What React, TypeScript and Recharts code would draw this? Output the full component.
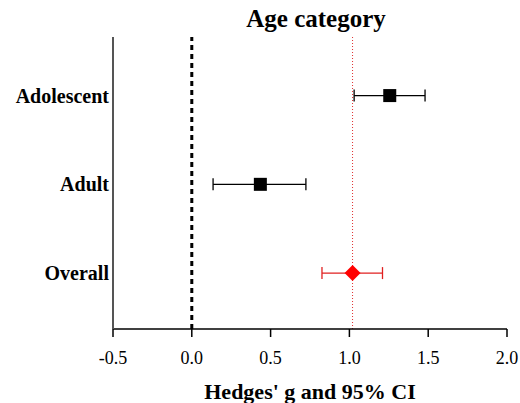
import { ScatterChart, Scatter, XAxis, YAxis, ErrorBar, ReferenceLine } from 'recharts'

const categories = ['Adolescent', 'Adult', 'Overall']
const rows = [3, 2, 1]
const estimates = [1.256, 0.435, 1.02]
const lowerCI = [1.03, 0.135, 0.826]
const upperCI = [1.48, 0.724, 1.21]
const xTicks = [-0.5, 0, 0.5, 1, 1.5, 2]
const overallLine = 1.02

const FONT = '"Liberation Serif", "DejaVu Serif", serif'

const points = categories.map((name, i) => ({
  name,
  y: rows[i],
  x: estimates[i],
  err: [estimates[i] - lowerCI[i], upperCI[i] - estimates[i]],
}))
const studies = points.filter((p) => p.name !== 'Overall')
const overall = points.filter((p) => p.name === 'Overall')

const Square = (props: any) => {
  const { cx, cy } = props
  return <rect x={cx - 6.5} y={cy - 6.5} width={13} height={13} fill="#000" />
}

const Diamond = (props: any) => {
  const { cx, cy } = props
  const r = 8
  return <polygon points={`${cx},${cy - r} ${cx + r},${cy} ${cx},${cy + r} ${cx - r},${cy}`} fill="#ff0000" />
}

const labelFor = (v: number) => {
  const i = rows.indexOf(v)
  return i >= 0 ? categories[i] : ''
}

export default function App() {
  return (
    <div style={{ width: 520, height: 403, position: 'relative', background: '#fff' }}>
      <style>{'body{margin:0}'}</style>
      <div
        style={{
          position: 'absolute', top: 5, left: 0, width: 632, textAlign: 'center',
          fontFamily: FONT, fontWeight: 'bold', fontSize: 25, color: '#000',
        }}
      >
        Age category
      </div>
      <ScatterChart width={520} height={403} margin={{ top: 37, right: 13, bottom: 0, left: 10 }}>
        <XAxis
          type="number"
          dataKey="x"
          domain={[-0.5, 2]}
          ticks={xTicks}
          tickFormatter={(v: number) => v.toFixed(1)}
          stroke="#000"
          strokeWidth={1.5}
          tickSize={8}
          tickMargin={14}
          height={74}
          tick={{ fill: '#000', fontFamily: FONT, fontSize: 18 }}
          label={{
            value: "Hedges' g and 95% CI",
            position: 'insideBottom',
            offset: 4,
            fill: '#000',
            fontFamily: FONT,
            fontWeight: 'bold',
            fontSize: 22,
          }}
        />
        <YAxis
          type="number"
          dataKey="y"
          domain={[0.37, 3.66]}
          ticks={rows}
          tickFormatter={labelFor}
          width={103}
          tickLine={false}
          tickSize={0}
          tickMargin={4}
          stroke="#555"
          strokeWidth={2}
          tick={{ fill: '#000', fontFamily: FONT, fontWeight: 'bold', fontSize: 20 }}
        />
        <ReferenceLine x={0} stroke="#000" strokeWidth={3} strokeDasharray="5 4" />
        <ReferenceLine x={overallLine} stroke="#e03030" strokeWidth={1} strokeDasharray="1 2" />
        <Scatter data={studies} shape={<Square />} isAnimationActive={false}>
          <ErrorBar dataKey="err" direction="x" width={6} stroke="#000" strokeWidth={1.3} />
        </Scatter>
        <Scatter data={overall} shape={<Diamond />} isAnimationActive={false}>
          <ErrorBar dataKey="err" direction="x" width={6} stroke="#e02020" strokeWidth={1.3} />
        </Scatter>
      </ScatterChart>
    </div>
  )
}
